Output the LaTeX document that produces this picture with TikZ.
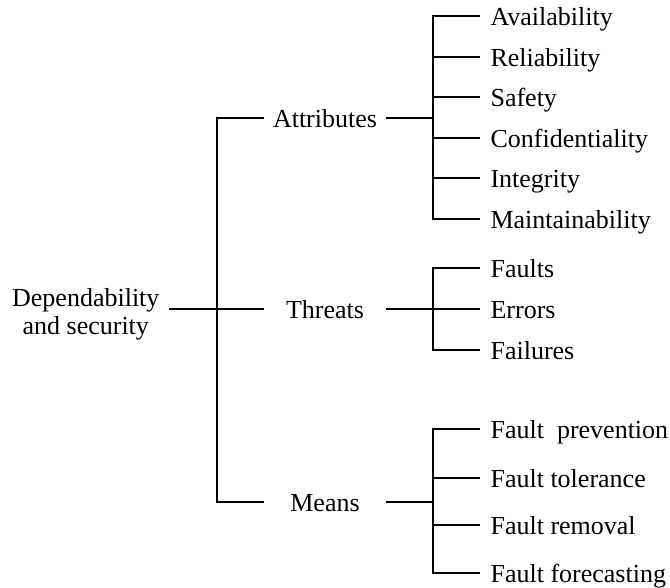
\documentclass[tikz,border=0pt]{standalone}
\usepackage{fontspec}
\setmainfont{Liberation Serif}
\begin{document}
\begin{tikzpicture}[x=1pt,y=-1pt,line width=1.1pt,
  every node/.style={font=\fontsize{26}{28}\selectfont},
  rootbox/.style={align=center,anchor=east,inner xsep=9pt,inner ysep=0pt},
  midbox/.style={minimum width=120pt,inner sep=0pt,text height=20pt,text depth=2pt},
  leafbox/.style={anchor=west,inner xsep=10pt,inner ysep=0pt,text height=20pt,text depth=2pt},
  link/.style={draw=black}]
\useasboundingbox (0,0) rectangle (670,587);

% root and first-level branches
\node[rootbox] (root) at (169,314) {Dependability\\and security};
\node[midbox] (attr) at (325,118) {Attributes};
\node[midbox] (threats) at (325,309) {Threats};
\node[midbox] (means) at (325,502) {Means};

\coordinate (j0) at (217,309);
\coordinate (ja) at (433,118);
\coordinate (jt) at (433,309);
\coordinate (jm) at (433,502);

% attributes
\node[leafbox] (a1) at (480,16)  {Availability};
\node[leafbox] (a2) at (480,57)  {Reliability};
\node[leafbox] (a3) at (480,97)  {Safety};
\node[leafbox] (a4) at (480,138) {Confidentiality};
\node[leafbox] (a5) at (480,178) {Integrity};
\node[leafbox] (a6) at (480,219) {Maintainability};

% threats
\node[leafbox] (t1) at (480,268) {Faults};
\node[leafbox] (t2) at (480,309) {Errors};
\node[leafbox] (t3) at (480,350) {Failures};

% means
\node[leafbox] (m1) at (480,429) {Fault\ \ prevention};
\node[leafbox] (m2) at (480,478) {Fault tolerance};
\node[leafbox] (m3) at (480,525) {Fault removal};
\node[leafbox] (m4) at (480,573) {Fault forecasting};

% connectors
\draw[link] (root.east |- j0) -- (j0);
\draw[link] (j0) |- (attr.west);
\draw[link] (j0) -- (threats.west);
\draw[link] (j0) |- (means.west);

\draw[link] (attr.east) -- (ja);
\foreach \n in {a1,a2,a3,a4,a5,a6} \draw[link] (ja) |- (\n.west);

\draw[link] (threats.east) -- (jt);
\foreach \n in {t1,t2,t3} \draw[link] (jt) |- (\n.west);

\draw[link] (means.east) -- (jm);
\foreach \n in {m1,m2,m3,m4} \draw[link] (jm) |- (\n.west);
\end{tikzpicture}
\end{document}
